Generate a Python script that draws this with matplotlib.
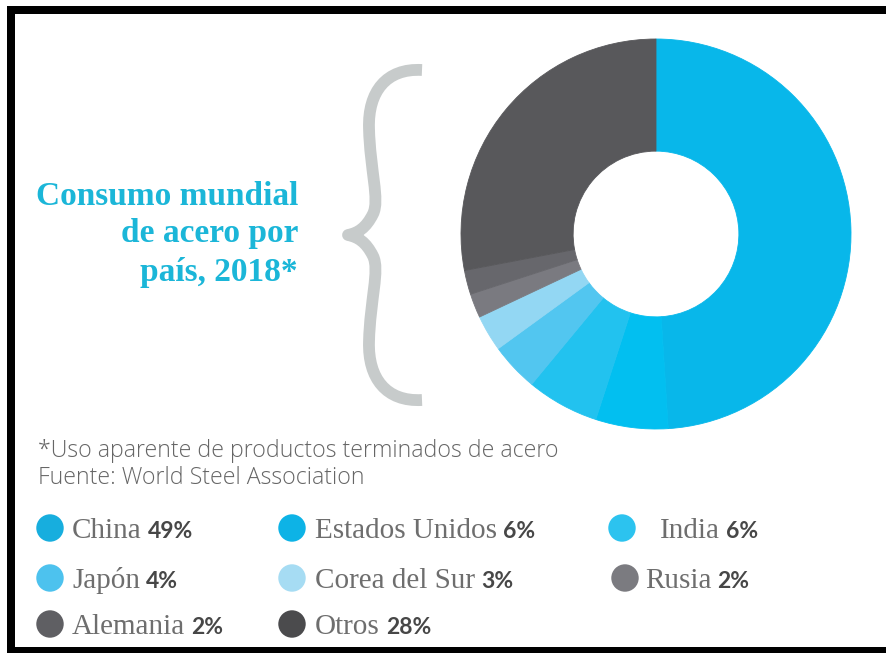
import matplotlib
matplotlib.use("Agg")
import matplotlib.pyplot as plt
from matplotlib.patches import Rectangle, PathPatch
from matplotlib.path import Path

# Consumo mundial de acero por país, 2018 (%)
countries = ["China", "Estados Unidos", "India", "Japón",
             "Corea del Sur", "Rusia", "Alemania", "Otros"]
shares = [49, 6, 6, 4, 3, 2, 2, 28]
slice_colors = ["#08b7ea", "#02bff0", "#22c2ef", "#52c6f0",
                "#93d7f3", "#7a7a80", "#67676c", "#58585b"]
legend_colors = ["#17aede", "#0db3e6", "#2cc3ef", "#4dc2ee",
                 "#a6dcf3", "#7b7b80", "#5f5f63", "#4b4b4d"]

title_lines = ["Consumo mundial", "de acero por", "país, 2018*"]
note_lines = ["*Uso aparente de productos terminados de acero",
              "Fuente: World Steel Association"]

W, H = 887, 653
fig = plt.figure(figsize=(W / 100, H / 100), dpi=100)
fig.patch.set_facecolor("white")

# overlay in pixel units (y grows downward)
ov = fig.add_axes([0, 0, 1, 1])
ov.set_xlim(0, W)
ov.set_ylim(H, 0)
ov.axis("off")

# frame
for x, y, w, h in [(7, 6, 8, 647), (7, 6, 880, 8), (7, 647, 880, 6)]:
    ov.add_patch(Rectangle((x, y), w, h, facecolor="black", edgecolor="none"))

# title
title_color = "#1bb6d8"
for line, yb in zip(title_lines, [205, 242, 281]):
    ov.text(298, yb, line, ha="right", va="baseline", color=title_color,
            fontsize=24, fontweight="bold", family="Liberation Serif")

# curly brace
verts = [(422, 70),
         (386, 68), (368, 92), (369, 128),
         (370, 170), (380, 200), (373, 214),
         (366, 228), (358, 233), (348, 235),
         (358, 237), (366, 242), (373, 256),
         (380, 270), (370, 300), (369, 342),
         (368, 378), (386, 402), (422, 400)]
codes = [Path.MOVETO] + [Path.CURVE4] * 18
ov.add_patch(PathPatch(Path(verts, codes), facecolor="none",
                       edgecolor="#c7cbcb", lw=8.5, capstyle="butt",
                       joinstyle="round"))

# notes
for line, yb in zip(note_lines, [457, 484]):
    ov.text(38, yb, line, ha="left", va="baseline", color="#666666",
            fontsize=16.7, family="Open Sans", fontweight="light")

# donut
cx, cy, R = 656, 234, 195
pax = fig.add_axes([(cx - R) / W, (H - cy - R) / H, 2 * R / W, 2 * R / H])
pax.pie(shares, colors=slice_colors, startangle=90, counterclock=False,
        radius=1.0, wedgeprops=dict(width=0.575, edgecolor="none"))
for w in pax.patches:
    w.set_edgecolor(w.get_facecolor())
    w.set_linewidth(0.6)
pax.set_xlim(-1, 1)
pax.set_ylim(-1, 1)
pax.set_aspect("equal")
pax.axis("off")

# legend
renderer = fig.canvas.get_renderer()
dot_x = [50, 292, 622, 50, 292, 625, 50, 292]
text_x = [72, 315, 660, 72, 315, 645, 72, 315]
row_y = [538, 538, 538, 588, 588, 588, 634, 634]
for i, (name, val) in enumerate(zip(countries, shares)):
    ov.scatter([dot_x[i]], [row_y[i] - 10], s=390, color=legend_colors[i],
               edgecolors="none", zorder=3)
    t = ov.text(text_x[i], row_y[i], name, ha="left", va="baseline",
                color="#6e6e6e", fontsize=21, family="Liberation Serif")
    bb = t.get_window_extent(renderer)
    ov.text(bb.x1 + 6, row_y[i], f"{val}%", ha="left", va="baseline",
            color="#474747", fontsize=16.5, family="Lato", fontweight="bold")

fig.savefig("out.png", dpi=100, facecolor="white")
